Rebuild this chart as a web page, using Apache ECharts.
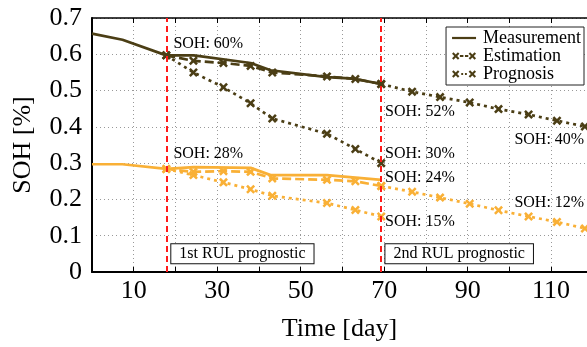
<!DOCTYPE html>
<html><head><meta charset="utf-8">
<script src="https://cdn.jsdelivr.net/npm/echarts@6/dist/echarts.min.js"></script>
<style>html,body{margin:0;padding:0;background:#fff}#c{width:587px;height:347px}</style>
</head><body><div id="c"></div>
<script>
// ---- data ----
const measDays = [0, 7.3, 17.8, 24.4, 38, 42.8, 56.3, 62.7, 69.3];
const measDark = [0.657, 0.640, 0.597, 0.597, 0.576, 0.556, 0.537, 0.533, 0.518];
const measOrangeDays = [0, 7.3, 17.8, 24.4, 38, 42.8, 56.3, 69.3];
const measOrange = [0.297, 0.297, 0.284, 0.289, 0.287, 0.267, 0.267, 0.254];
const estDays = [17.8, 24.3, 31.5, 38, 43.2, 56.3, 63.1, 69.3];
const estDark = [0.597, 0.582, 0.576, 0.568, 0.550, 0.539, 0.532, 0.518];
const estOrange = [0.284, 0.276, 0.278, 0.276, 0.258, 0.254, 0.250, 0.237];
const prog1Dark = [0.597, 0.550, 0.509, 0.465, 0.423, 0.381, 0.339, 0.300];
const prog1Orange = [0.284, 0.267, 0.247, 0.228, 0.210, 0.190, 0.171, 0.153];
const prog2Days = [69.3, 76.7, 83.4, 90.5, 97.4, 104.6, 111.4, 118.1];
const prog2Dark = [0.518, 0.497, 0.482, 0.467, 0.449, 0.434, 0.417, 0.401];
const prog2Orange = [0.237, 0.221, 0.205, 0.188, 0.170, 0.153, 0.138, 0.120];
const rulDays = [17.8, 69.3];
const sohLabels = [
  [19.5, 0.630, 'SOH: 60%'], [19.5, 0.326, 'SOH: 28%'],
  [70.2, 0.442, 'SOH: 52%'], [70.2, 0.326, 'SOH: 30%'],
  [70.2, 0.260, 'SOH: 24%'], [70.2, 0.139, 'SOH: 15%'],
  [101.2, 0.363, 'SOH: 40%'], [101.2, 0.192, 'SOH: 12%']
];
const rulLabels = [[19.0, 0.05, '1st RUL prognostic'], [70.3, 0.05, '2nd RUL prognostic']];
const legendNames = ['Measurement', 'Estimation', 'Prognosis'];
const xMin = 0, xMax = 118.6, yMin = 0, yMax = 0.7;

// ---- styles ----
const DARK = '#4b3e15', ORANGE = '#f9b036', RED = '#ff1a1a';
const FONT = 'Liberation Serif';
const XSYM = 'path://M2,0 L5,3 L8,0 L10,2 L7,5 L10,8 L8,10 L5,7 L2,10 L0,8 L3,5 L0,2 Z';
const XL = 'M1.6,0 L4,2.4 L6.4,0 L8,1.6 L5.6,4 L8,6.4 L6.4,8 L4,5.6 L1.6,8 L0,6.4 L2.4,4 L0,1.6 Z';
const XR = 'M19.6,0 L22,2.4 L24.4,0 L26,1.6 L23.6,4 L26,6.4 L24.4,8 L22,5.6 L19.6,8 L18,6.4 L20.4,4 L18,1.6 Z';
const ICONS = {
  Measurement: 'path://M0,0 M0,2.8 L26,2.8 L26,5.2 L0,5.2 Z M26,8',
  Estimation: 'path://' + XL + ' M8.5,2.9 L12.3,2.9 L12.3,5.1 L8.5,5.1 Z M14,2.9 L17.6,2.9 L17.6,5.1 L14,5.1 Z ' + XR,
  Prognosis: 'path://' + XL + ' M10,2.9 L12,2.9 L12,5.1 L10,5.1 Z M14,2.9 L16,2.9 L16,5.1 L14,5.1 Z ' + XR
};
const zip = (xs, ys) => xs.map((x, i) => [x, ys[i]]);

function line(name, xs, ys, color, type, sym) {
  return {
    type: 'line', name, data: zip(xs, ys), color,
    symbol: sym ? XSYM : 'none', symbolSize: 9, showSymbol: !!sym,
    lineStyle: { color, width: 2.7, type, cap: 'butt' },
    itemStyle: { color },
    animation: false, z: 3
  };
}

const series = [
  line('Measurement', measDays, measDark, DARK, 'solid', false),
  line('Estimation', estDays, estDark, DARK, [9, 4], true),
  line('Prognosis', estDays, prog1Dark, DARK, [3, 4], true),
  line('Prognosis', prog2Days, prog2Dark, DARK, [3, 4], true),
  line('m2', measOrangeDays, measOrange, ORANGE, 'solid', false),
  line('e2', estDays, estOrange, ORANGE, [9, 4], true),
  line('p2a', estDays, prog1Orange, ORANGE, [3, 4], true),
  line('p2b', prog2Days, prog2Orange, ORANGE, [3, 4], true),
  {
    type: 'scatter', name: 'labels', symbolSize: 0, z: 5, animation: false,
    itemStyle: { opacity: 1 },
    data: sohLabels.map(d => ({ value: [d[0], d[1]], label: { formatter: d[2] } })),
    label: { show: true, position: 'inside', align: 'left', verticalAlign: 'middle',
      fontFamily: FONT, fontSize: 16, color: '#000', opacity: 1 },
    markLine: {
      silent: true, symbol: 'none', animation: false,
      lineStyle: { color: RED, width: 2, type: [6, 4], opacity: 1 },
      label: { show: false },
      data: rulDays.map(d => ({ xAxis: d }))
    }
  },
  {
    type: 'scatter', name: 'rul', symbolSize: 0, z: 6, animation: false,
    itemStyle: { opacity: 1 },
    data: rulLabels.map(d => ({ value: [d[0], d[1]], label: { formatter: d[2] } })),
    label: { show: true, position: 'inside', align: 'left', verticalAlign: 'middle',
      fontFamily: FONT, fontSize: 16, color: '#000', opacity: 1, backgroundColor: '#fff',
      borderColor: '#111', borderWidth: 1, padding: [2, 8, 1, 8] }
  }
];

const chart = echarts.init(document.getElementById('c'), null, { renderer: 'canvas' });
chart.setOption({
  backgroundColor: '#fff',
  animation: false,
  grid: { left: 92, right: 0, top: 18, bottom: 63, containLabel: false },
  legend: {
    data: legendNames.map(n => ({ name: n, icon: ICONS[n] })),
    orient: 'vertical', right: 3, top: 27,
    itemWidth: 24, itemHeight: 8, itemGap: 0,
    padding: [2, 3, 2, 6],
    borderColor: '#222', borderWidth: 1, backgroundColor: '#fff',
    textStyle: { fontFamily: FONT, fontSize: 18, color: '#000', padding: [0, 0, 0, 2] }
  },
  xAxis: [{
    type: 'value', min: xMin, max: xMax, interval: 10,
    name: 'Time [day]', nameLocation: 'middle', nameGap: 44,
    nameTextStyle: { fontFamily: FONT, fontSize: 26, color: '#000' },
    axisLine: { show: true, onZero: false, lineStyle: { color: '#000', width: 2 } },
    axisTick: { show: true, inside: true, length: 5, lineStyle: { color: '#000' } },
    axisLabel: { fontFamily: FONT, fontSize: 26, color: '#000', margin: 6, showMaxLabel: false,
      formatter: v => (Math.round(v) % 20 === 10 ? String(Math.round(v)) : '') },
    splitLine: { show: true, lineStyle: { color: '#999', type: [1, 3] } }
  }, {
    type: 'value', position: 'top', min: xMin, max: xMax, interval: 10,
    axisLine: { show: true, onZero: false, lineStyle: { color: '#000', width: 1.5 } },
    axisTick: { show: true, inside: true, length: 5, lineStyle: { color: '#000' } },
    axisLabel: { show: false }, splitLine: { show: false }
  }],
  yAxis: {
    type: 'value', min: yMin, max: yMax, interval: 0.1,
    name: 'SOH [%]', nameLocation: 'middle', nameGap: 56, nameRotate: 90,
    nameTextStyle: { fontFamily: FONT, fontSize: 26, color: '#000' },
    axisLine: { show: true, lineStyle: { color: '#000', width: 2 } },
    axisTick: { show: false },
    axisLabel: { fontFamily: FONT, fontSize: 26, color: '#000', margin: 10,
      formatter: v => (Math.round(v * 10) / 10).toString() },
    splitLine: { show: true, lineStyle: { color: '#999', type: [1, 3] } }
  },
  series
});
</script></body></html>
